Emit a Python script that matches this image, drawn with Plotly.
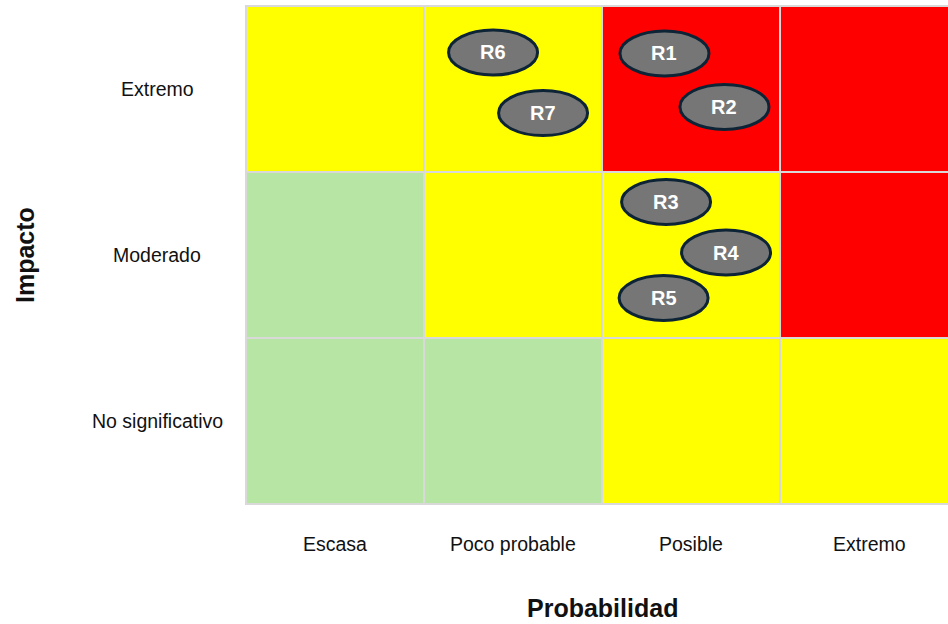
import plotly.graph_objects as go

# ---- data ----
prob_labels = ["Escasa", "Poco probable", "Posible", "Extremo"]
impact_labels = ["No significativo", "Moderado", "Extremo"]  # bottom -> top

# cell colours, rows bottom -> top, columns left -> right
cell_colors = [
    ["#b7e5a4", "#b7e5a4", "#ffff00", "#ffff00"],
    ["#b7e5a4", "#ffff00", "#ffff00", "#ff0000"],
    ["#ffff00", "#ffff00", "#ff0000", "#ff0000"],
]

risk_names = ["R1", "R2", "R3", "R4", "R5", "R6", "R7"]
risk_x = [2.351, 2.688, 2.360, 2.697, 2.346, 1.388, 1.669]
risk_y = [2.714, 2.392, 1.819, 1.515, 1.241, 2.720, 2.355]

# ---- layout constants ----
W, H = 948, 624
ML, MT, MB = 245, 5, 119
PX_X, PX_Y = 178.0, 166.0          # pixels per category
ELL_W, ELL_H = 89 / PX_X, 45 / PX_Y
FONT = "Liberation Sans, Arial, sans-serif"

x_range = [-1 / PX_X, (W - ML - 1) / PX_X]
y_range = [-1 / PX_Y, 3 + 1 / PX_Y]

fig = go.Figure()
fig.add_trace(go.Scatter(x=[None], y=[None], showlegend=False, hoverinfo="skip"))

shapes = []
for r, row in enumerate(cell_colors):
    for c, col in enumerate(row):
        shapes.append(dict(type="rect", xref="x", yref="y",
                           x0=c, x1=c + 1, y0=r, y1=r + 1,
                           fillcolor=col, line=dict(color="#d9d9d9", width=2),
                           layer="below"))
for x, y in zip(risk_x, risk_y):
    shapes.append(dict(type="circle", xref="x", yref="y",
                       x0=x - ELL_W / 2, x1=x + ELL_W / 2,
                       y0=y - ELL_H / 2, y1=y + ELL_H / 2,
                       fillcolor="#767676", line=dict(color="#0d2436", width=3),
                       layer="above"))

annotations = []
for name, x, y in zip(risk_names, risk_x, risk_y):
    annotations.append(dict(x=x, y=y, xref="x", yref="y", text="<b>%s</b>" % name,
                            showarrow=False, xanchor="center", yanchor="middle",
                            font=dict(family=FONT, size=20, color="white")))
for i, lab in enumerate(prob_labels):
    annotations.append(dict(x=i + 0.5, y=0, xref="x", yref="paper", text=lab,
                            showarrow=False, xanchor="center", yanchor="middle",
                            yshift=-39, font=dict(family=FONT, size=19.5, color="#111111")))
for j, lab in enumerate(impact_labels):
    annotations.append(dict(x=0, y=j + 0.5, xref="paper", yref="y", text=lab,
                            showarrow=False, xanchor="center", yanchor="middle",
                            xshift=-88, font=dict(family=FONT, size=19.5, color="#111111")))
annotations.append(dict(x=0, y=0, xref="paper", yref="paper", text="<b>Probabilidad</b>",
                        showarrow=False, xanchor="center", yanchor="middle",
                        xshift=357, yshift=-103,
                        font=dict(family=FONT, size=25, color="#111111")))
annotations.append(dict(x=0, y=0.5, xref="paper", yref="paper", text="<b>Impacto</b>",
                        showarrow=False, xanchor="center", yanchor="middle",
                        xshift=-220, textangle=-90,
                        font=dict(family=FONT, size=25, color="#111111")))

fig.update_layout(
    width=W, height=H,
    margin=dict(l=ML, r=0, t=MT, b=MB, pad=0),
    paper_bgcolor="white", plot_bgcolor="white",
    xaxis=dict(range=x_range, showgrid=False, zeroline=False, showticklabels=False,
               fixedrange=True),
    yaxis=dict(range=y_range, showgrid=False, zeroline=False, showticklabels=False,
               fixedrange=True),
    shapes=shapes, annotations=annotations, showlegend=False,
)

fig.write_html("out.html")
